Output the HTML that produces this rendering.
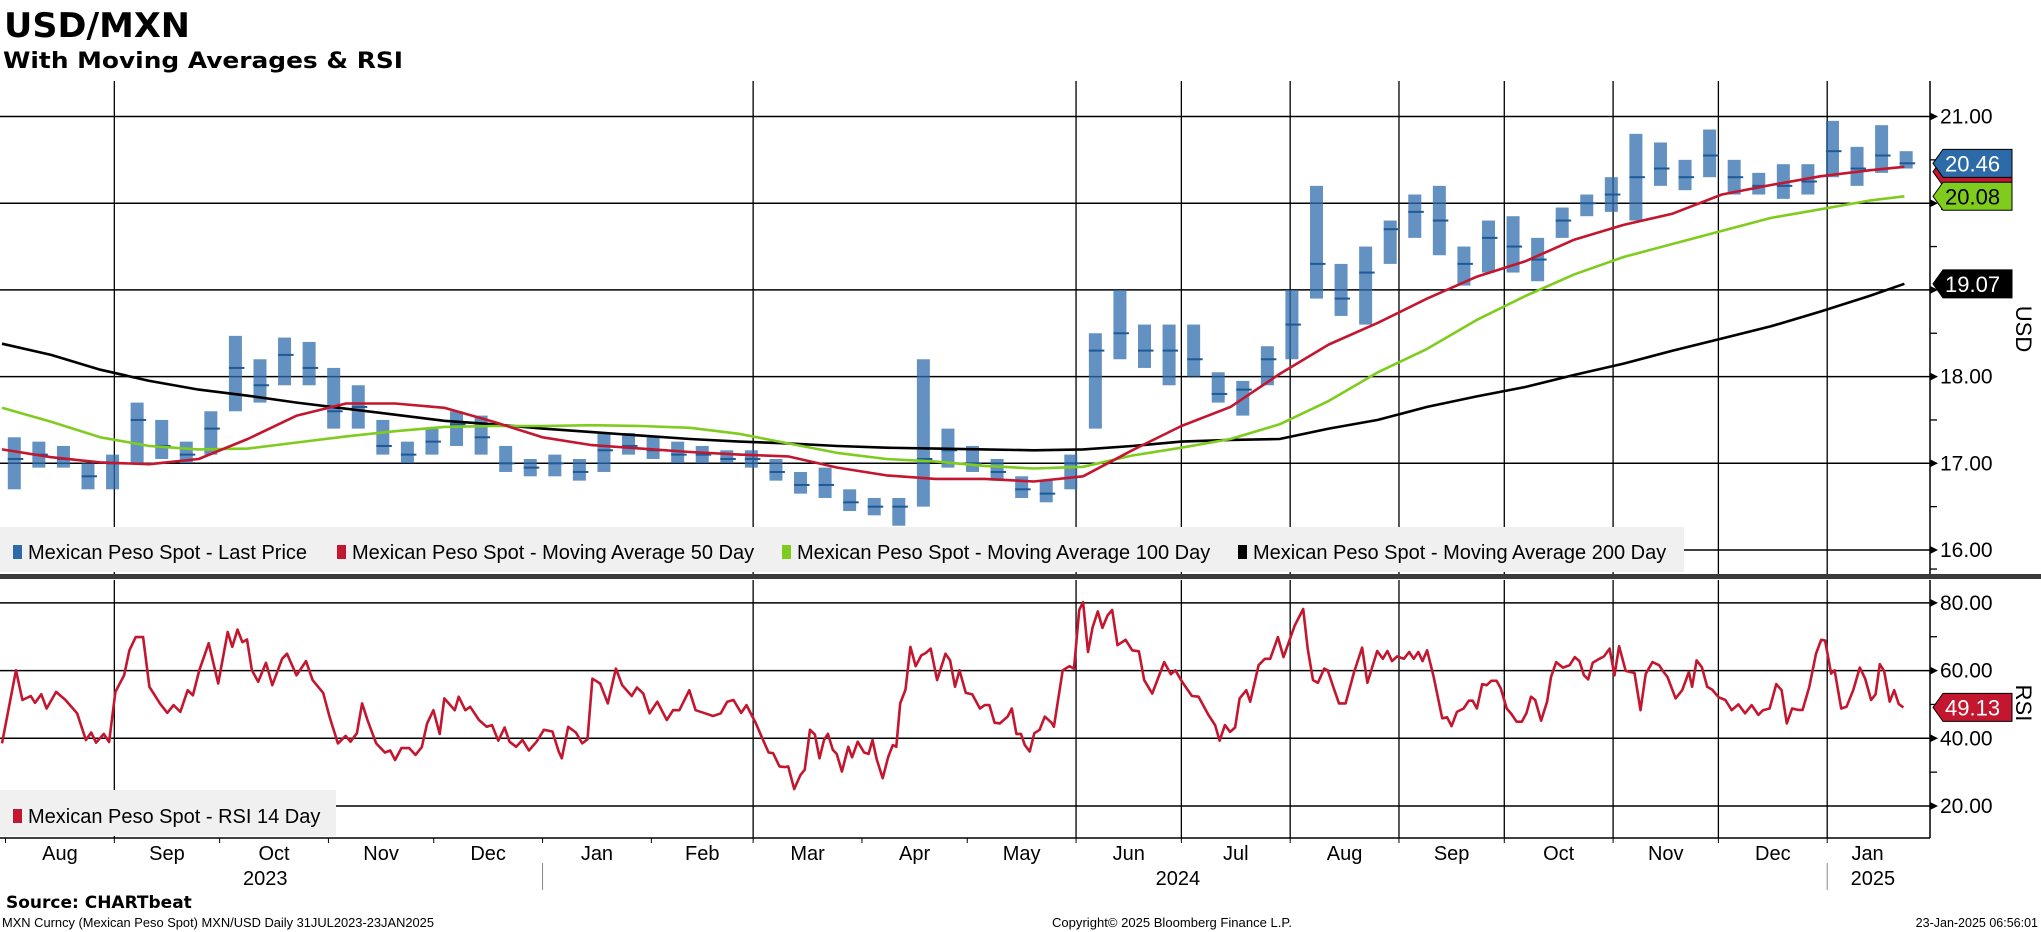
<!DOCTYPE html>
<html><head><meta charset="utf-8"><title>USD/MXN</title>
<style>
html,body{margin:0;padding:0;background:#fff;}
svg{display:block;font-family:"Liberation Sans",sans-serif;}
</style></head>
<body>
<svg id="chart" width="2041" height="932" viewBox="0 0 2041 932" xmlns="http://www.w3.org/2000/svg">
<text x="4" y="37" font-family="DejaVu Sans, sans-serif" font-weight="bold" font-size="34" textLength="186" lengthAdjust="spacingAndGlyphs">USD/MXN</text>
<text x="3" y="68" font-family="DejaVu Sans, sans-serif" font-weight="bold" font-size="22" textLength="400" lengthAdjust="spacingAndGlyphs">With Moving Averages &amp; RSI</text>
<g id="grid"></g>
<g id="series"></g>
<g id="axes"></g>
<text x="6" y="908" font-family="DejaVu Sans, sans-serif" font-weight="bold" font-size="17">Source: CHARTbeat</text>
<text x="2" y="927" font-size="12.5" textLength="432" lengthAdjust="spacingAndGlyphs">MXN Curncy (Mexican Peso Spot) MXN/USD  Daily 31JUL2023-23JAN2025</text>
<text x="1052" y="927" font-size="12.5" textLength="240" lengthAdjust="spacingAndGlyphs">Copyright© 2025 Bloomberg Finance L.P.</text>
<text x="2038" y="927" font-size="12.5" text-anchor="end">23-Jan-2025 06:56:01</text>
</svg>
<script>
// ---- data ----
const weekStartDays = [0,7,14,21,28,35,42,49,56,63,70,77,84,91,98,105,112,119,126,133,140,147,154,161,168,175,182,189,196,203,210,217,224,231,238,245,252,259,266,273,280,287,294,301,308,315,322,329,336,343,350,357,364,371,378,385,392,399,406,413,420,427,434,441,448,455,462,469,476,483,490,497,504,511,518,525,532,539];
const priceHigh = [17.3,17.25,17.2,17.0,17.1,17.7,17.5,17.25,17.6,18.47,18.2,18.45,18.4,18.1,17.9,17.5,17.25,17.4,17.6,17.55,17.2,17.05,17.1,17.05,17.35,17.35,17.3,17.25,17.2,17.15,17.15,17.05,16.9,16.95,16.7,16.6,16.6,18.2,17.4,17.2,17.05,16.85,16.8,17.1,18.5,19.0,18.6,18.6,18.6,18.05,17.95,18.35,19.0,20.2,19.3,19.5,19.8,20.1,20.2,19.5,19.8,19.85,19.6,19.95,20.1,20.3,20.8,20.7,20.5,20.85,20.5,20.35,20.45,20.45,20.95,20.65,20.9,20.6];
const priceLow = [16.7,16.95,16.95,16.7,16.7,17.0,17.05,17.0,17.1,17.6,17.7,17.9,17.9,17.4,17.4,17.1,17.0,17.1,17.2,17.1,16.9,16.85,16.85,16.8,16.9,17.1,17.05,17.0,17.0,17.0,16.95,16.8,16.65,16.6,16.45,16.4,16.28,16.5,16.95,16.9,16.8,16.6,16.55,16.7,17.4,18.2,18.1,17.9,18.0,17.7,17.55,17.9,18.2,18.9,18.7,18.6,19.3,19.6,19.4,19.05,19.2,19.2,19.1,19.6,19.85,19.9,19.8,20.2,20.15,20.3,20.1,20.1,20.05,20.1,20.3,20.2,20.35,20.4];
const priceClose = [17.05,17.1,17.05,16.85,17.0,17.5,17.2,17.1,17.4,18.1,17.9,18.25,18.1,17.6,17.65,17.2,17.1,17.25,17.45,17.3,17.0,16.95,17.0,16.9,17.15,17.2,17.15,17.1,17.1,17.05,17.05,16.9,16.75,16.75,16.55,16.5,16.5,17.05,17.15,17.0,16.9,16.7,16.65,17.0,18.3,18.5,18.3,18.3,18.2,17.8,17.85,18.2,18.6,19.3,18.9,19.2,19.7,19.9,19.8,19.3,19.6,19.5,19.35,19.8,20.0,20.1,20.3,20.4,20.3,20.55,20.3,20.2,20.2,20.25,20.6,20.4,20.55,20.46];
const maDays = [0,14,28,42,56,70,84,98,112,126,140,154,168,182,196,210,224,238,252,266,280,294,308,322,336,350,364,378,392,406,420,434,448,462,476,490,504,518,532,542];
const ma50 = [17.16,17.07,17.01,16.99,17.05,17.28,17.55,17.69,17.69,17.64,17.48,17.30,17.21,17.17,17.13,17.10,17.08,16.95,16.86,16.82,16.82,16.79,16.85,17.15,17.43,17.65,18.03,18.37,18.62,18.90,19.15,19.33,19.58,19.75,19.88,20.10,20.21,20.31,20.38,20.42];
const ma100 = [17.64,17.48,17.30,17.20,17.16,17.17,17.24,17.31,17.37,17.42,17.43,17.43,17.44,17.43,17.41,17.34,17.23,17.12,17.05,17.02,16.97,16.94,16.96,17.09,17.18,17.28,17.45,17.72,18.05,18.32,18.65,18.93,19.18,19.38,19.53,19.68,19.83,19.93,20.03,20.08];
const ma200 = [18.38,18.25,18.08,17.95,17.85,17.78,17.70,17.63,17.56,17.49,17.45,17.40,17.36,17.32,17.28,17.25,17.23,17.20,17.18,17.17,17.16,17.15,17.16,17.20,17.25,17.27,17.28,17.40,17.50,17.65,17.77,17.88,18.02,18.15,18.30,18.44,18.58,18.75,18.93,19.07];
const rsiDays = [0,4,5.8,8.2,9.4,11.2,12.7,15.4,18.1,21.4,23.9,25.4,26.8,29,30.5,32.3,34.8,36.3,38.1,40.2,42,45,47.1,48.9,50.8,52.9,54.4,56.2,58.9,61.6,64.3,65.6,67.1,68.5,69.8,71.2,73,75.2,77,79.8,81.2,83.9,86.6,88.5,91.5,93.3,95.7,97.9,99.3,101.1,102.6,104.2,106.6,109.1,110.6,112,113.8,116,117.8,119.6,121.1,122.9,124.7,126,129,130.1,132,133.4,135.9,138.1,139.6,141.4,143.2,144.6,146.5,148.3,150.1,152.3,154.4,156.8,158.6,159.5,161.3,163.5,165.3,166.8,168.2,170.4,172.6,174.9,176.7,179.4,180.9,182.7,184.5,186.7,189.4,191.2,193,195.8,197.6,200.3,202.6,204.8,206.6,208.4,210.6,212.1,214.8,216.6,218.4,219.7,221.5,223,224,225.7,227.5,228.7,230.2,231.6,232.9,234.2,235.3,236.7,237.8,239.3,241.1,242.2,243.8,245.6,246.9,248,249.2,250.9,252.5,253.8,254.8,255.9,257.4,258.8,260.3,261.9,263.2,264.6,266.4,268.8,270.1,271.5,272.8,274.6,276.4,278.6,280,281.3,282.8,284.3,286.5,287.7,289,290.3,291.4,292.8,294.1,295.6,297.1,299,299.7,302.2,304.1,305.4,306.9,308,309.4,310.7,312.2,313.5,315,316.3,317.8,320.1,322,323.9,325.4,327.7,331.1,333,334.3,336.2,339,340.9,343.7,345.6,346.9,348.4,349.9,351.3,352.6,354.5,355.6,358,359.8,361.3,363.5,365.1,368.3,370.7,372,373.5,374.9,376.7,377.7,379.6,380.9,382.8,385.2,387.5,389,391.8,393.4,394.7,396,397.5,399.4,400.9,402.2,403.5,404.7,406,407.9,410.3,411.7,413,414.5,416.4,417.9,419,420.2,421.7,423,424.3,425.8,427,428.7,430,431.5,433,434.3,435.6,436.8,438.5,440.2,441.3,442.8,444.7,446.6,448.1,449.4,450.7,451.9,453.2,455.1,456.4,458,459.4,460.7,462.6,465.1,466.8,468.3,470.2,472.1,473.4,474.5,476.8,478.7,480.6,481.5,482.8,484.3,485.8,487.2,489.1,491,492.8,494.7,496.6,498.5,500.4,501.7,503.6,505.5,507,508.5,510,511.7,513,514.9,516.8,518.3,519.4,521.1,522.1,524,525.5,527.4,529.3,530.8,532.5,533.8,535,536.2,537.8,539.1,540.4,541.7];
const rsiVals = [38.5,60.1,51.3,52.5,50.5,53,48.8,53.7,51.3,47.4,39.5,41.7,38.7,41.3,38.9,53.7,58.6,66,69.9,69.9,55.2,50.3,47.5,49.8,47.8,54.2,52.7,60.1,68.1,56.2,71.4,67,72.1,68.4,69.2,60.1,56.7,62.3,55.7,63.5,65,58.6,62.8,57.2,53.4,46.4,38.5,40.7,39,41.5,50.3,45.2,38.5,35.8,36.4,33.6,37.1,37.1,35.1,37.4,44.4,48.3,41.3,51.8,48.3,52.3,48.3,49.3,45.4,43.4,43.9,39.3,43.2,39,37.5,39.5,36.4,39,42.5,42,36.1,34.1,43.4,41.7,38.5,39.7,57.6,56.2,50.3,60.6,55.7,52.5,55,53.2,47.4,50.8,45.4,48.3,48.3,54.2,48.3,47.4,46.6,47.4,50.8,51.3,47.5,49.8,44.4,40,35.8,35.6,31.7,31.5,31.7,25,29.2,30.7,42.5,41.1,34.1,39.5,41.3,36.6,35.4,30.2,37.5,34.4,39,35.8,35.4,39.5,33.8,28.2,34.6,38,37.5,50.3,54.4,67,61.3,64.5,65.2,66.5,57.2,65,63,55.2,60.1,53.4,53,48.8,49.8,49.8,44.6,44.4,46.4,48.8,41.3,41.3,38,36.1,41.5,42.5,46.4,44.6,43.4,60.1,61.3,60.6,77.9,80.2,65.5,72.8,77.5,72.6,76.3,77.9,67.5,69.1,66,65.7,57.2,53.2,62.5,58.9,60.1,56.7,52.5,52.3,46.9,43.9,39.3,43.9,41.9,43.2,51.8,54.2,50.8,61.6,63.5,63.5,69.9,64,73.3,78.2,66.5,57.2,56.4,60.6,60.1,54.2,50.3,50.3,59.6,66.8,56.4,65.8,63.5,65.8,62.8,64.2,63.5,65.5,63.5,65.5,62.8,66,58.1,45.9,46.2,43.6,47.8,48.8,51.1,51.1,48.8,56,55.7,57,57,54.7,48.8,47.2,44.9,44.9,47.4,52.3,51.3,45.2,50.8,58.1,62.5,60.9,61.6,64,62.8,58.6,57.4,62.3,63.5,64.2,66.5,58.6,67.2,59.9,59.3,48.3,59,62.5,61.6,59.6,58.1,51.8,54.2,59.6,55.2,63,61,55.2,54.4,52.1,51.3,48.3,50,47.4,49.8,46.9,48.3,48.8,56,54.2,44.4,48.8,48.4,48.4,55.2,65,69.1,68.9,59.1,60.1,48.8,49.3,54.2,60.9,57.7,51.3,53,61.9,59.9,50.8,54.2,50.1,49.13];
const priceTicks = [16,17,18,19,20,21];
const priceTickLabels = ["16.00","17.00","18.00","19.00","20.00","21.00"];
const rsiTicks = [20,40,60,80];
const rsiTickLabels = ["20.00","40.00","60.00","80.00"];
const gridDays = [32,214,306,336,367,398,428,459,489,520];
const monthStartDays = [1,32,62,93,123,154,185,214,245,275,306,336,367,398,428,459,489,520];
const monthLabels = ["Aug","Sep","Oct","Nov","Dec","Jan","Feb","Mar","Apr","May","Jun","Jul","Aug","Sep","Oct","Nov","Dec","Jan"];
const yearLabels = ["2023","2024","2025"];
const yearLabelDays = [75,335,533];
const yearSepDays = [154,520];
const lastValues = [20.46,20.42,20.08,19.07];

// ---- scales ----
const NS = "http://www.w3.org/2000/svg";
const AX = 1930;
const xDay = d => 2 + d * 3.51;
const yP = v => 463.3 - (v - 17) * 86.7;
const yR = v => 738.3 - (v - 40) * 3.385;
const P_TOP = 81, P_BOT = 575, R_TOP = 580, R_BOT = 838;
function mk(tag, attrs, parent){const e=document.createElementNS(NS,tag);for(const k in attrs)e.setAttribute(k,attrs[k]);parent.appendChild(e);return e;}
const grid = document.getElementById('grid');
const series = document.getElementById('series');
const axes = document.getElementById('axes');

gridDays.forEach(d=>{
  const l1 = mk('line',{x1:xDay(d),x2:xDay(d),y1:P_TOP,y2:P_BOT,stroke:'#000','stroke-width':1.3},grid);
  
  
  const l2 = mk('line',{x1:xDay(d),x2:xDay(d),y1:R_TOP,y2:R_BOT,stroke:'#000','stroke-width':1.3},grid);
  
  
});
priceTicks.forEach((v,i)=>{
  const l = mk('line',{x1:0,x2:AX,y1:yP(v),y2:yP(v),stroke:'#000','stroke-width':1.5},grid);
  
  
  const a = mk('path',{d:`M${AX} ${yP(v)-4}L${AX+8} ${yP(v)}L${AX} ${yP(v)+4}Z`,fill:'#000'},axes);
  
  
  const t = mk('text',{x:AX+10,y:yP(v)+7,'font-size':21},axes);
  t.textContent = priceTickLabels[i];
  
  
  if(i<priceTicks.length-1){
    const m = mk('line',{x1:AX,x2:AX+7,y1:yP(v+0.5),y2:yP(v+0.5),stroke:'#000','stroke-width':1.3},axes);
    
    
  }
});
rsiTicks.forEach((v,i)=>{
  const l = mk('line',{x1:0,x2:AX,y1:yR(v),y2:yR(v),stroke:'#000','stroke-width':1.5},grid);
  
  
  const a = mk('path',{d:`M${AX} ${yR(v)-4}L${AX+8} ${yR(v)}L${AX} ${yR(v)+4}Z`,fill:'#000'},axes);
  
  
  const t = mk('text',{x:AX+10,y:yR(v)+7,'font-size':21},axes);
  t.textContent = rsiTickLabels[i];
  
  
  const m = mk('line',{x1:AX,x2:AX+7,y1:yR(v+10),y2:yR(v+10),stroke:'#000','stroke-width':1.3},axes);
  
  
});

weekStartDays.forEach((d,i)=>{
  const x = xDay(d+3.5);
  const b = mk('rect',{x:x-6.5,y:yP(priceHigh[i]),width:13,height:yP(priceLow[i])-yP(priceHigh[i]),fill:'#2f6cac','fill-opacity':0.75},series);
  
  
  const c = mk('line',{x1:x-6.5,x2:x+9,y1:yP(priceClose[i]),y2:yP(priceClose[i]),stroke:'#1f5a96','stroke-width':2},series);
  
  
});
function line(days, vals, ys, color, name, w){
  const d = days.map((dd,i)=>(i?'L':'M')+xDay(dd).toFixed(1)+' '+ys(vals[i]).toFixed(1)).join('');
  const p = mk('path',{d:d,fill:'none',stroke:color,'stroke-width':w,'stroke-linejoin':'round'},series);
  
  
}
line(maDays, ma200, yP, '#000', 'ma200-line', 2.6);
line(maDays, ma100, yP, '#7fcc1e', 'ma100-line', 2.6);
line(maDays, ma50, yP, '#c3162f', 'ma50-line', 2.6);
line(rsiDays, rsiVals, yR, '#c3162f', 'rsi-line', 2.6);

[[AX,P_TOP,AX,P_BOT],[AX,R_TOP,AX,R_BOT]].forEach(c=>{
  const l = mk('line',{x1:c[0],y1:c[1],x2:c[2],y2:c[3],stroke:'#000','stroke-width':1.5},axes);
  
  
});
const sep = mk('rect',{x:0,y:574,width:2041,height:5,fill:'#3a3a3a'},axes);


const xa = mk('line',{x1:0,x2:AX,y1:R_BOT,y2:R_BOT,stroke:'#000','stroke-width':1.5},axes);


monthStartDays.forEach((d,i)=>{
  const t = mk('line',{x1:xDay(d),x2:xDay(d),y1:R_BOT,y2:R_BOT+5,stroke:'#000','stroke-width':1},axes);
  
  
  const end = i<monthStartDays.length-1 ? monthStartDays[i+1] : 543;
  const lbl = mk('text',{x:xDay((d+end)/2),y:860,'font-size':20,'text-anchor':'middle'},axes);
  lbl.textContent = monthLabels[i];
  
  
});
yearLabels.forEach((y,i)=>{
  const t = mk('text',{x:xDay(yearLabelDays[i]),y:885,'font-size':20,'text-anchor':'middle'},axes);
  t.textContent = y;
  
  
});
yearSepDays.forEach(d=>{
  const l = mk('line',{x1:xDay(d),x2:xDay(d),y1:863,y2:890,stroke:'#888','stroke-width':1},axes);
  
  
});

const usd = mk('text',{x:0,y:0,'font-size':22,transform:'translate(2016,329) rotate(90)','text-anchor':'middle'},axes);
usd.textContent='USD';


const rsiT = mk('text',{x:0,y:0,'font-size':22,transform:'translate(2016,703) rotate(90)','text-anchor':'middle'},axes);
rsiT.textContent='RSI';



function tag(yc, color, txt, txtColor, name){
  const g = mk('g',{},axes);
  
  
  mk('path',{d:`M${AX+3} ${yc}L${AX+13} ${yc-14}L2012 ${yc-14}L2012 ${yc+14}L${AX+13} ${yc+14}Z`,fill:color,stroke:'#000','stroke-width':1},g);
  const t = mk('text',{x:AX+15,y:yc+8,'font-size':22,fill:txtColor},g);
  t.textContent = txt;
}
tag(yP(lastValues[1])+5,'#c3162f','','#fff','ma50-value-tag');
tag(yP(lastValues[0]),'#2c6aa8',lastValues[0].toFixed(2),'#fff','last-price-value-tag');
tag(yP(lastValues[2]),'#7fcc1e',lastValues[2].toFixed(2),'#000','ma100-value-tag');
tag(yP(lastValues[3]),'#000',lastValues[3].toFixed(2),'#fff','ma200-value-tag');
tag(yR(rsiVals[rsiVals.length-1]),'#c3162f',rsiVals[rsiVals.length-1].toFixed(2),'#fff','rsi-value-tag');

const lg = mk('g',{},axes);


mk('rect',{x:0,y:527,width:1684,height:45,fill:'#f0f0f0'},lg);
const legItems = [["#2c6aa8","Mexican Peso Spot - Last Price",13],["#c3162f","Mexican Peso Spot - Moving Average 50 Day",337],["#7fcc1e","Mexican Peso Spot - Moving Average 100 Day",782],["#000","Mexican Peso Spot - Moving Average 200 Day",1238]];
legItems.forEach(it=>{
  const e = mk('g',{},lg);
  
  
  mk('rect',{x:it[2],y:545,width:9,height:14,fill:it[0]},e);
  const t = mk('text',{x:it[2]+15,y:559,'font-size':20},e);
  t.textContent = it[1];
});
const rl = mk('g',{},axes);


mk('rect',{x:0,y:790,width:336,height:46,fill:'#f0f0f0'},rl);
mk('rect',{x:13,y:809,width:9,height:14,fill:'#c3162f'},rl);
const rt = mk('text',{x:28,y:823,'font-size':20},rl);
rt.textContent = 'Mexican Peso Spot - RSI 14 Day';
</script>
</body></html>
